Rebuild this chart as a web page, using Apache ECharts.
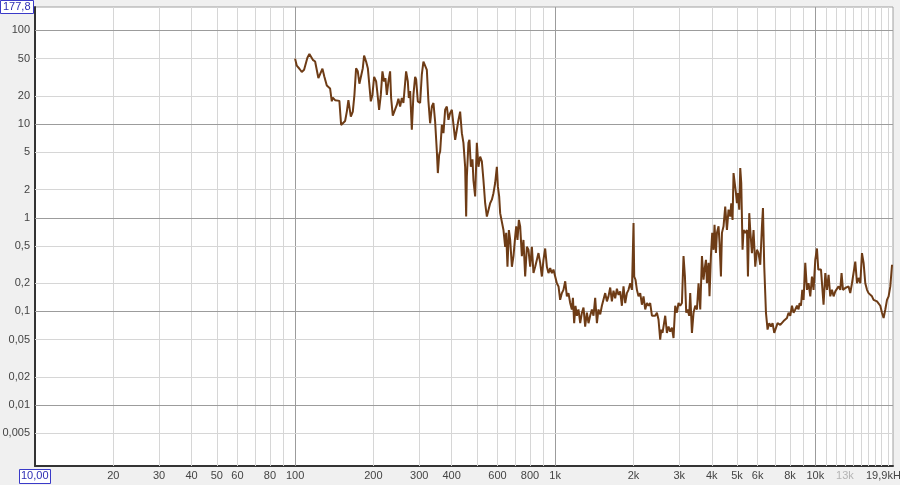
<!DOCTYPE html>
<html>
<head>
<meta charset="utf-8">
<script src="https://cdn.jsdelivr.net/npm/echarts@6/dist/echarts.min.js"></script>
<style>
html,body{margin:0;padding:0;background:#f0f0f0;}
#chart{width:900px;height:485px;}
</style>
</head>
<body>
<div id="chart"></div>
<script>
// Frequency (Hz) of each sampled point
const freqHz = [
100,101.5,103.9,106.1,108.3,110.2,111.5,113.5,115.2,117,119.4,121.2,122.9,124.8,127.4,129.6,132.4,134.3,136.3,138.4,
139.6,142.5,144.7,148,150.3,152.6,155.7,158.1,160.3,163.8,166.7,169.1,171.6,174.2,176.7,179.4,182.1,184.2,187.5,190.4,
193.1,195.5,198.3,201.3,204.9,207.3,210.4,213.6,216.7,219.9,222.5,225.3,228.5,231.9,234,237.5,240.9,246.1,249.6,253.4,
257.3,260.9,267.2,271.3,273.7,276.9,281.1,285.1,289.4,292,296.4,302.5,307.1,311.5,316.2,321,325.6,330.5,335.6,340.4,
345.5,350.8,353.9,358,
361.2,366.7,371.9,377.5,383.2,388.7,394.6,400.6,406.3,412.5,418.7,424.7,431.1,437.7,443.9,450.6,454.7,457.5,464,468.1,
474,480.8,485,492.4,499.8,507,514.7,522.5,530,538,546.2,553.9,562.3,570.9,579,587.8,596.7,602.1,609,614.4,
623.7,632.6,642.3,648,655.5,663.7,671.4,681.6,691.3,701.8,708,716.2,725.1,733.5,744.6,755.2,766.7,778.3,789.4,801.4,
813.6,825.2,837.7,850.4,862.5,875.6,888.9,901.5,915.2,929.1,942.4,956.7,971.2,985,
1000,1015,1030,1045,1061,1076,1093,1109,1125,1142,1159,1170,1183,1197,1212,1229,1248,1267,1285,1304,
1324,1343,1363,1384,1404,1425,1447,1467,1490,1512,1534,1557,1581,1603,1628,1652,1676,1701,1727,1752,
1778,1805,1831,1859,1887,1914,1943,1973,1990,2001,2013,2036,2062,2091,2123,2155,2186,2219,2253,2285,
2319,2355,2388,2424,2461,2496,2534,2557,2586,2609,2649,2689,2728,2769,2811,2851,2894,2938,2980,3025,
3071,3115,3154,3190,3227,3276,3305,3356,3404,3455,3508,3558,3612,3667,3719,3752,3799,3832,3887,3921,
3970,4016,4063,4099,4150,4187,4247,4285,4338,4377,4439,4506,4575,4640,4711,4753,4808,4850,4894,4955,
4998,5043,5101,5147,5193,5253,5300,5380,5462,5510,5574,5623,5709,5790,5878,5967,6052,6144,6237,6293,
6366,6462,6555,6653,6754,6851,6955,7061,7162,7335,7552,7783,7894,8014,8136,8252,8377,8504,8625,8702,
8811,8913,9015,9152,9291,9424,9567,9712,9850,
10000,10150,10270,10390,10520,10670,10760,10930,11090,11250,11420,11590,11760,11940,12120,12290,12480,12620,12780,13040,
13240,13430,13630,13840,14040,14250,14470,14670,14900,15120,15340,15570,15810,16030,16280,16520,16760,17270,17520,17780,
18050,18310,18590,18870,19140,19430,19730
];
// Magnitude at each frequency
const level = [
50,42,39,36,38,39,51,56,56,48.5,46.5,46,31,31,39,32,25.8,25,24,17.5,
19.2,18,18.7,17.7,9.8,9.4,10.8,13.6,18,12,13.6,20.5,39.5,36.6,27,26,39.5,54,46.5,39.5,
39,17.5,20.5,32,28.5,21.3,14.2,20.5,36.6,28.5,31,20.5,28.5,36.6,19,12.3,12.3,16,18.7,15.4,
19,16.8,36.6,28.5,19,22.5,8.7,20.5,32,30,17.5,16.8,34,46.5,48.5,38,17.5,10.2,15.4,16.8,
10.6,5.1,3.0,4.7,
5.1,9.8,8.0,14.2,15.4,11.1,13.1,14.2,13.6,6.8,8.7,11.1,13.6,8.0,6.3,3.5,1.03,2.76,6.3,6.8,
3.5,4.2,2.5,1.69,6.3,3.5,4.5,4.0,2.5,1.43,1.03,0.99,1.43,1.56,1.83,2.35,3.5,2.15,1.69,1.12,
1.12,0.74,0.49,0.69,0.30,0.74,0.58,0.30,0.39,0.63,0.81,0.58,0.95,0.81,0.39,0.58,0.236,0.49,0.455,0.30,
0.49,0.257,0.30,0.356,0.42,0.33,0.236,0.356,0.47,0.30,0.257,0.29,0.257,0.28,
0.236,0.2,0.185,0.133,0.157,0.17,0.21,0.145,0.157,0.123,0.105,0.14,0.075,0.115,0.09,0.105,0.075,0.097,0.11,0.069,
0.097,0.075,0.09,0.105,0.09,0.14,0.075,0.105,0.093,0.115,0.12,0.157,0.128,0.145,0.18,0.128,0.167,0.138,0.175,0.15,
0.164,0.115,0.185,0.123,0.157,0.17,0.2,0.17,0.455,0.88,0.236,0.218,0.17,0.145,0.157,0.118,0.145,0.105,0.123,0.115,
0.123,0.09,0.093,0.09,0.097,0.082,0.05,0.064,0.059,0.069,0.09,0.059,0.069,0.061,0.067,0.052,0.115,0.097,0.123,0.115,
0.123,0.39,0.236,0.097,0.105,0.09,0.157,0.059,0.097,0.115,0.105,0.2,0.105,0.39,0.218,0.28,0.356,0.2,0.33,0.145,
0.39,0.69,0.455,0.84,0.42,0.69,0.81,0.54,0.236,0.69,0.81,1.32,0.74,1.22,1.03,1.43,0.95,3.0,3.1,1.83,
1.43,1.83,1.22,3.4,2.35,0.455,0.74,0.69,0.74,0.236,1.12,0.74,0.42,0.74,0.30,0.455,0.42,0.315,0.81,1.27,
0.30,0.097,0.064,0.075,0.069,0.075,0.059,0.058,0.075,0.072,0.079,0.085,0.097,0.09,0.115,0.097,0.105,0.115,0.105,0.123,
0.115,0.17,0.133,0.33,0.17,0.2,0.145,0.236,0.17,
0.356,0.47,0.28,0.29,0.28,0.29,0.118,0.257,0.17,0.246,0.145,0.17,0.145,0.164,0.157,0.185,0.17,0.257,0.17,0.178,
0.17,0.185,0.157,0.2,0.21,0.34,0.2,0.228,0.2,0.42,0.33,0.2,0.17,0.157,0.155,0.145,0.133,0.128,0.128,0.115,
0.097,0.085,0.105,0.133,0.145,0.185,0.315
];
// Axis ranges
const xRange = [10, 19900];
const yRange = [0.00224, 177.8];
// Vertical grid lines and labelled ticks
const xGridValues = [20,30,40,50,60,70,80,90,100,200,300,400,500,600,700,800,900,1000,
  2000,3000,4000,5000,6000,7000,8000,9000,10000,11000,12000,13000,14000,15000,16000,17000,18000,19000];
const xMajor = [100,1000,10000];
const xTickValues = [20,30,40,50,60,80,100,200,300,400,600,800,1000,2000,3000,4000,5000,6000,8000,10000,13000];
const xTickLabels = ['20','30','40','50','60','80','100','200','300','400','600','800','1k','2k','3k','4k','5k','6k','8k','10k','13k'];
// Horizontal grid lines and labels
const yGridValues = [100,50,20,10,5,2,1,0.5,0.2,0.1,0.05,0.02,0.01,0.005];
const yMajor = [100,10,1,0.1,0.01];
const yTickLabels = ['100','50','20','10','5','2','1','0,5','0,2','0,1','0,05','0,02','0,01','0,005'];

const FONT = 'Liberation Sans';
const lightGrid = '#d6d6d6';
const darkGrid = '#9c9c9c';

const vLines = xGridValues.map(v => {
  const i = xTickValues.indexOf(v);
  return {
    xAxis: v,
    lineStyle: {color: xMajor.includes(v) ? darkGrid : lightGrid, width: 1, type: 'solid'},
    label: {
      show: i >= 0,
      formatter: i >= 0 ? xTickLabels[i] : '',
      position: 'start',
      distance: 4,
      color: v === 13000 ? '#b4b4b4' : '#444',
      fontFamily: FONT, fontSize: 11
    }
  };
});
const hLines = yGridValues.map((v, i) => ({
  yAxis: v,
  lineStyle: {color: yMajor.includes(v) ? darkGrid : lightGrid, width: 1, type: 'solid'},
  label: {
    show: true,
    formatter: yTickLabels[i],
    position: 'start',
    distance: 5,
    color: '#444',
    fontFamily: FONT, fontSize: 11
  }
}));

const chart = echarts.init(document.getElementById('chart'), null, {renderer: 'canvas'});
chart.setOption({
  animation: false,
  backgroundColor: '#f0f0f0',
  grid: {left: 35, top: 7, right: 7, bottom: 19, show: true, backgroundColor: '#ffffff', borderColor: '#a0a0a0', borderWidth: 1},
  xAxis: {
    type: 'log', logBase: 10, min: xRange[0], max: xRange[1],
    axisLine: {show: true, onZero: false, lineStyle: {color: '#333', width: 2}},
    axisTick: {show: false}, axisLabel: {show: false}, splitLine: {show: false}, minorSplitLine: {show: false}
  },
  yAxis: {
    type: 'log', logBase: 10, min: yRange[0], max: yRange[1],
    axisLine: {show: true, onZero: false, lineStyle: {color: '#333', width: 2}},
    axisTick: {show: false}, axisLabel: {show: false}, splitLine: {show: false}, minorSplitLine: {show: false}
  },
  graphic: [
    {type: 'rect', left: 0, top: 0, shape: {x: 0.5, y: 0.5, width: 33, height: 13},
     style: {fill: '#ffffff', stroke: '#3a3ac8', lineWidth: 1}, z: 100},
    {type: 'text', left: 3, top: 1, style: {text: '177,8', fill: '#2e2eb4', font: '11px "Liberation Sans"'}, z: 101},
    {type: 'rect', left: 19, top: 469, shape: {x: 0.5, y: 0.5, width: 31, height: 14},
     style: {fill: '#ffffff', stroke: '#3a3ac8', lineWidth: 1}, z: 100},
    {type: 'text', left: 21, top: 470, style: {text: '10,00', fill: '#2e2eb4', font: '11px "Liberation Sans"'}, z: 101},
    {type: 'text', left: 866, top: 470, style: {text: '19,9kHz', fill: '#444', font: '11px "Liberation Sans"'}, z: 101}
  ],
  series: [
    {
      type: 'line', data: [], z: 1, silent: true,
      markLine: {silent: true, precision: 6, symbol: ['none', 'none'], z: 1, animation: false, data: vLines.concat(hLines)}
    },
    {
      type: 'line', z: 5, silent: true,
      data: freqHz.map((f, i) => [f, level[i]]),
      showSymbol: false, symbol: 'none',
      lineStyle: {color: '#6e3c16', width: 2},
      clip: true
    }
  ]
});
</script>
</body>
</html>
